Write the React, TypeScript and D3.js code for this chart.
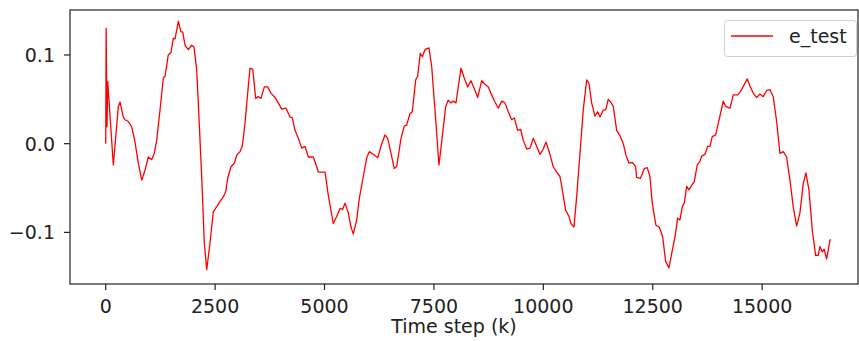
import * as d3 from 'd3';

// time steps (k) and the test error
const steps = [
  0, 10, 30, 46, 174, 288, 327, 402, 441, 516, 594, 669, 745, 823, 898, 973, 1051, 1110, 1165, 1241,
  1316, 1355, 1430, 1492, 1545, 1583, 1659, 1720, 1759, 1812, 1887, 1965, 2018, 2079, 2116, 2193, 2253,
  2308, 2383, 2458, 2536, 2612, 2687, 2742, 2787, 2863, 2938, 2993, 3068, 3121, 3183, 3244, 3297, 3359,
  3427, 3487, 3548, 3624, 3701, 3777, 3868, 3944, 4021, 4120, 4211, 4264, 4325, 4401, 4478, 4554, 4629,
  4743, 4821, 4858, 4935, 5011, 5086, 5200, 5278, 5353, 5415, 5468, 5543, 5605, 5657, 5735, 5794, 5886,
  5963, 6023, 6114, 6215, 6290, 6382, 6443, 6519, 6594, 6649, 6747, 6823, 6877, 6953, 7005, 7083, 7129,
  7188, 7234, 7296, 7387, 7449, 7524, 7615, 7691, 7768, 7828, 7889, 7942, 8004, 8056, 8118, 8193, 8271,
  8346, 8422, 8499, 8591, 8666, 8742, 8819, 8895, 8970, 9048, 9123, 9199, 9276, 9336, 9413, 9482, 9541,
  9619, 9694, 9770, 9847, 9922, 9998, 10060, 10151, 10227, 10305, 10380, 10433, 10510, 10586, 10631,
  10700, 10761, 10837, 10912, 10990, 11043, 11104, 11179, 11241, 11294, 11369, 11424, 11483, 11538,
  11598, 11676, 11751, 11826, 11888, 11957, 12032, 12110, 12130, 12220, 12306, 12374, 12436, 12489,
  12573, 12649, 12727, 12795, 12871, 12932, 13008, 13069, 13122, 13175, 13220, 13275, 13328, 13389,
  13448, 13517, 13579, 13617, 13693, 13754, 13807, 13860, 13937, 13997, 14058, 14111, 14166, 14264,
  14340, 14440, 14508, 14584, 14659, 14721, 14796, 14874, 14949, 15025, 15103, 15178, 15253, 15331,
  15406, 15482, 15559, 15635, 15710, 15788, 15863, 15939, 16000, 16069, 16144, 16222, 16281, 16320,
  16373, 16418, 16473, 16510, 16548, 16571,
];
const eTest = [
  0.0, 0.13, 0.019, 0.07, -0.024, 0.042, 0.047, 0.03, 0.027, 0.025, 0.019, 0.002, -0.022, -0.041, -0.03,
  -0.015, -0.018, -0.011, 0.004, 0.038, 0.074, 0.076, 0.1, 0.103, 0.119, 0.118, 0.138, 0.126, 0.126, 0.111,
  0.106, 0.111, 0.109, 0.083, 0.046, -0.037, -0.112, -0.142, -0.112, -0.077, -0.071, -0.065, -0.06, -0.054,
  -0.039, -0.026, -0.022, -0.013, -0.009, -0.003, 0.023, 0.057, 0.085, 0.084, 0.051, 0.053, 0.051, 0.064,
  0.064, 0.057, 0.052, 0.046, 0.039, 0.04, 0.03, 0.029, 0.015, 0.006, -0.005, -0.003, -0.015, -0.015,
  -0.026, -0.032, -0.032, -0.032, -0.058, -0.09, -0.082, -0.073, -0.074, -0.067, -0.078, -0.094, -0.102,
  -0.086, -0.062, -0.037, -0.016, -0.009, -0.012, -0.016, -0.003, 0.01, 0.006, -0.011, -0.028, -0.026,
  0.006, 0.02, 0.021, 0.034, 0.036, 0.072, 0.076, 0.102, 0.098, 0.106, 0.108, 0.087, 0.038, -0.024, 0.008,
  0.042, 0.049, 0.046, 0.048, 0.046, 0.064, 0.085, 0.074, 0.064, 0.071, 0.062, 0.052, 0.071, 0.067, 0.064,
  0.055, 0.047, 0.04, 0.048, 0.046, 0.036, 0.027, 0.029, 0.015, 0.016, 0.004, -0.006, -0.005, 0.006,
  -0.003, -0.012, -0.006, 0.002, -0.012, -0.026, -0.032, -0.037, -0.052, -0.075, -0.082, -0.09, -0.094,
  -0.06, -0.011, 0.038, 0.072, 0.068, 0.046, 0.031, 0.036, 0.03, 0.038, 0.038, 0.05, 0.047, 0.042, 0.015,
  0.009, 0.0, -0.013, -0.022, -0.021, -0.026, -0.038, -0.039, -0.028, -0.027, -0.037, -0.067, -0.092,
  -0.094, -0.105, -0.133, -0.14, -0.124, -0.105, -0.084, -0.086, -0.071, -0.067, -0.048, -0.052, -0.047,
  -0.043, -0.024, -0.02, -0.014, -0.012, -0.003, -0.003, 0.008, 0.01, 0.023, 0.036, 0.048, 0.042, 0.04,
  0.055, 0.055, 0.059, 0.066, 0.073, 0.065, 0.057, 0.052, 0.056, 0.053, 0.06, 0.061, 0.053, 0.025, -0.011,
  -0.009, -0.015, -0.041, -0.071, -0.093, -0.078, -0.045, -0.033, -0.052, -0.097, -0.126, -0.126, -0.116,
  -0.122, -0.119, -0.13, -0.12, -0.109, -0.108,
];
const xTicks = [0, 2500, 5000, 7500, 10000, 12500, 15000];
const yTicks = [-0.1, 0.0, 0.1];

const W = 859;
const H = 341;
const left = 70, right = 858, top = 10, bottom = 284;
const font = '"DejaVu Sans", sans-serif';

export default function App() {
  const x = d3.scaleLinear().domain([-816, 17190]).range([left, right]);
  const y = d3.scaleLinear().domain([-0.1582, 0.1507]).range([bottom, top]);
  const line = d3.line<number>()
    .x((_, i) => x(steps[i]))
    .y(d => y(d));
  const fmtY = (v: number) => (v < 0 ? '\u2212' : '') + Math.abs(v).toFixed(1);

  return (
    <svg width={W} height={H} style={{ position: 'absolute', left: 0, top: 0, background: '#fff' }}>
      <path d={line(eTest) || ''} fill="none" stroke="#ff0000" strokeWidth={1.3} strokeLinejoin="round" />
      {/* axes frame */}
      <rect x={left} y={top} width={right - left} height={bottom - top} fill="none" stroke="#222" strokeWidth={1.2} />
      {/* x ticks */}
      {xTicks.map(t => (
        <g key={t}>
          <line x1={x(t)} x2={x(t)} y1={bottom} y2={bottom + 6} stroke="#222" strokeWidth={1.2} />
          <text x={x(t)} y={313} textAnchor="middle" fontFamily={font} fontSize={19} fill="#222">{t}</text>
        </g>
      ))}
      {/* y ticks */}
      {yTicks.map(t => (
        <g key={t}>
          <line x1={left - 6} x2={left} y1={y(t)} y2={y(t)} stroke="#222" strokeWidth={1.2} />
          <text x={55} y={y(t) + 7} textAnchor="end" fontFamily={font} fontSize={19} fill="#222">{fmtY(t)}</text>
        </g>
      ))}
      <text x={454} y={333} textAnchor="middle" fontFamily={font} fontSize={19} fill="#222">Time step (k)</text>
      {/* legend */}
      <rect x={724.5} y={20.5} width={132} height={36} rx={3} fill="#fff" fillOpacity={0.8} stroke="#d0d0d0" strokeWidth={1} />
      <line x1={731} x2={773} y1={36} y2={36} stroke="#ff0000" strokeWidth={1.3} />
      <text x={789} y={43} fontFamily={font} fontSize={19} fill="#222">e_test</text>
    </svg>
  );
}
